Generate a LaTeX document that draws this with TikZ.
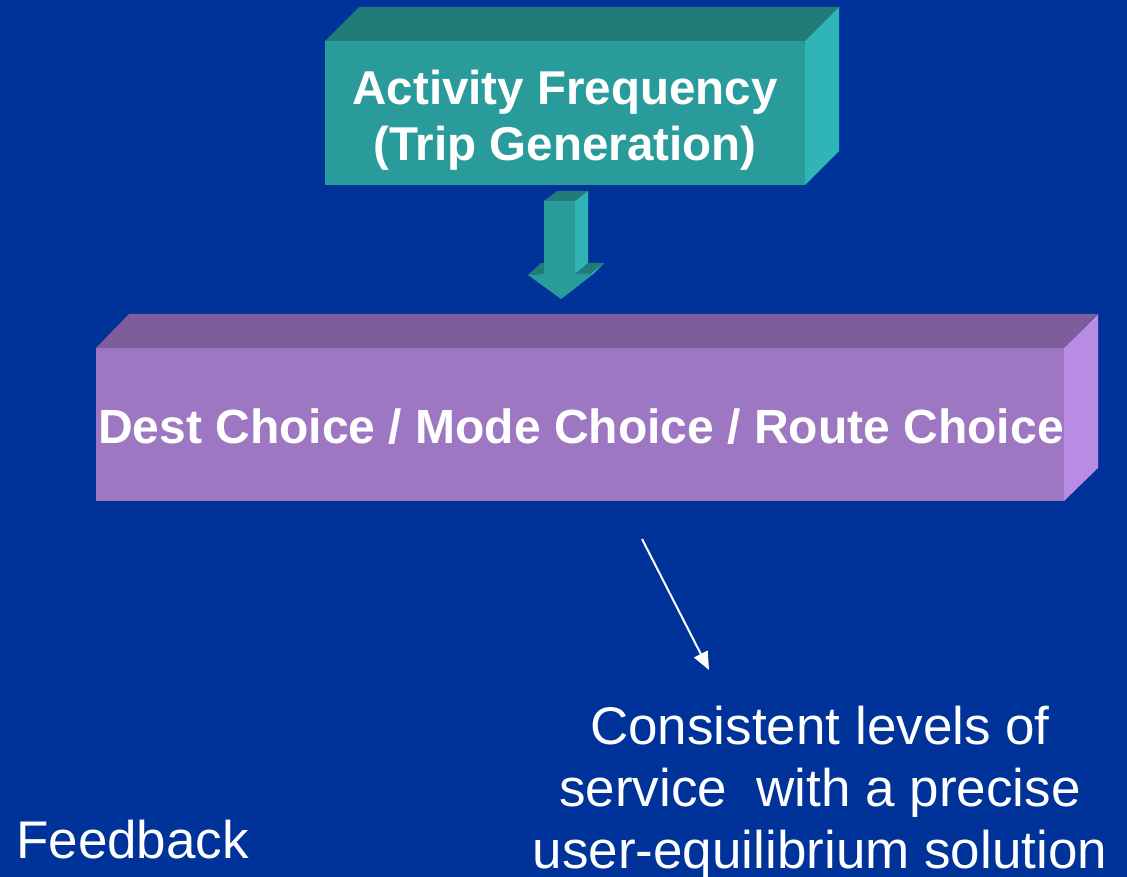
\documentclass[tikz,border=0pt]{standalone}
\usepackage{fontspec}
\setmainfont{Liberation Sans}
\usetikzlibrary{arrows.meta}
\definecolor{bgblue}{HTML}{003399}
\definecolor{tealfront}{HTML}{2A9B9B}
\definecolor{tealtop}{HTML}{217B79}
\definecolor{tealside}{HTML}{2FB5B5}
\definecolor{purpfront}{HTML}{9E77C3}
\definecolor{purptop}{HTML}{7D5E9B}
\definecolor{purpside}{HTML}{B98BE3}
\tikzset{
  faceteal/.style={fill=tealfront, draw=none, inner sep=0pt, outer sep=0pt},
  facepurp/.style={fill=purpfront, draw=none, inner sep=0pt, outer sep=0pt},
  boldtext/.style={text=white, font=\bfseries\fontsize{47.5}{56}\selectfont, align=center, inner sep=0pt},
  plaintext/.style={text=white, font=\fontsize{53}{62}\selectfont, align=center, inner sep=0pt},
  thinarrow/.style={draw=white, line width=2pt, -{Triangle[length=18pt,width=15pt]}}
}
\begin{document}
\begin{tikzpicture}[x=1pt,y=-1pt]
\fill[bgblue] (0,0) rectangle (1127,877);
\useasboundingbox (0,0) rectangle (1127,877);

% Top box
\node[faceteal, minimum width=480pt, minimum height=144pt] (act) at (565,113) {};
\fill[tealtop] (act.north west) -- ++(34,-34) -- ++(480,0) -- (act.north east) -- cycle;
\fill[tealside] (act.north east) -- ++(34,-34) -- ++(0,144) -- (act.south east) -- cycle;
\node[boldtext] (actlabel) at (565,120.5) {Activity Frequency\\(Trip Generation)};

% Block arrow
\fill[tealtop] (544,201) -- (557,191) -- (588,191) -- (575,201) -- cycle;
\fill[tealside] (575,201) -- (588,191) -- (588,264) -- (575,274) -- cycle;
\fill[tealtop] (575,274) -- (588,263) -- (604,263) -- (593,274) -- cycle;
\fill[tealtop] (528,275) -- (541,263) -- (544,263) -- (544,274) -- cycle;
\fill[tealside] (593,274) -- (604,263) -- (574,288) -- (561,299) -- cycle;
\fill[tealfront] (544,201) -- (575,201) -- (575,274) -- (593,274) -- (561,299) -- (528,275) -- (544,274) -- cycle;

% Purple box
\node[facepurp, minimum width=968pt, minimum height=153pt] (choice) at (580,424.5) {};
\fill[purptop] (choice.north west) -- ++(33,-34) -- ++(968,0) -- (choice.north east) -- cycle;
\fill[purpside] (choice.north east) -- ++(34,-34) -- ++(0,154) -- (choice.south east) -- cycle;
\node[boldtext, font=\bfseries\fontsize{48}{56}\selectfont, anchor=base] (choicelabel) at (581,443) {Dest Choice / Mode Choice / Route Choice};

% Thin arrow
\coordinate (arrstart) at (642,539);
\coordinate (arrend) at (709,670);
\draw[thinarrow] (arrstart) -- (arrend);

% Bottom texts
\node[plaintext] (result) at (820,792.5) {Consistent levels of\\service~ with a precise\\user-equilibrium solution};
\node[plaintext, anchor=base west] (feedback) at (16,858) {Feedback};
\end{tikzpicture}
\end{document}
